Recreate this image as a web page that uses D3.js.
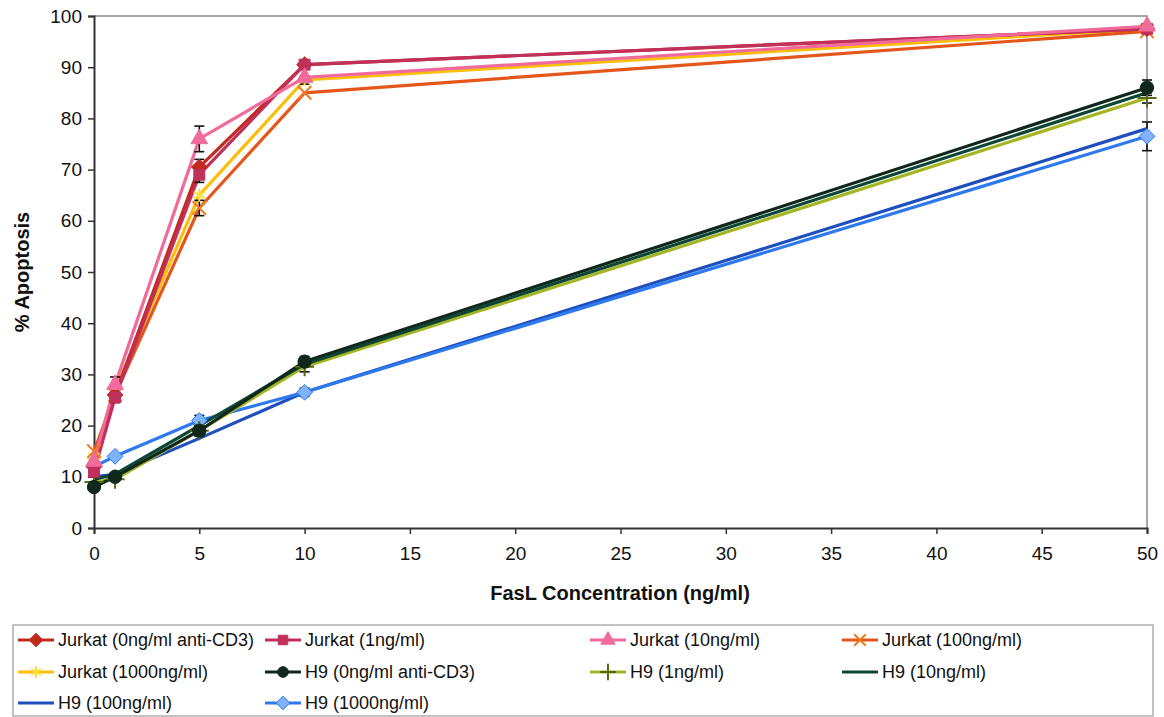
<!DOCTYPE html>
<html>
<head>
<meta charset="utf-8">
<script src="https://cdn.jsdelivr.net/npm/d3@7"></script>
<style>
  body { margin: 0; background: #fff; }
  svg { display: block; font-family: "Liberation Sans", Arial, sans-serif; }
</style>
</head>
<body>
<svg id="chart" width="1164" height="717"></svg>
<script>
const concentrations = [0, 1, 5, 10, 50];
const xTicks = [0, 5, 10, 15, 20, 25, 30, 35, 40, 45, 50];
const yTicks = [0, 10, 20, 30, 40, 50, 60, 70, 80, 90, 100];

const seriesNames = [
  "Jurkat (0ng/ml anti-CD3)", "Jurkat (1ng/ml)", "Jurkat (10ng/ml)", "Jurkat (100ng/ml)",
  "Jurkat (1000ng/ml)", "H9 (0ng/ml anti-CD3)", "H9 (1ng/ml)", "H9 (10ng/ml)",
  "H9 (100ng/ml)", "H9 (1000ng/ml)"
];
const jurkat0    = [12, 26, 70.5, 90.5, 97.5];
const jurkat1    = [11, 25.5, 69, 90.5, 97.5];
const jurkat10   = [13, 28, 76, 88, 98];
const jurkat100  = [15, 26, 62.5, 85, 97];
const jurkat1000 = [14, 27, 65, 87.5, 97.5];
const h9_0    = [8, 10, 19, 32.5, 86];
const h9_1    = [9, 9.5, 19, 31.5, 84];
const h9_10   = [9.5, 10.5, 20, 32, 85];
const h9_100  = [10, 10.5, 17.5, 26.5, 78];
const h9_1000 = [12, 14, 21, 26.5, 76.5];

const err_jurkat0    = [0, 1, 1.5, 0, 0];
const err_jurkat1    = [0, 1, 1.5, 0, 0];
const err_jurkat10   = [0, 1.5, 2.5, 0, 0];
const err_jurkat100  = [0, 1, 1.5, 0, 0];
const err_jurkat1000 = [0, 0, 0, 0.8, 0];
const err_h9_0    = [0, 0, 1, 1, 1.5];
const err_h9_1    = [0, 0, 1, 1, 1];
const err_h9_10   = [0, 0, 0, 0, 0];
const err_h9_100  = [0, 0, 0, 0, 0];
const err_h9_1000 = [0, 0, 1, 0.8, 2.8];

const seriesColors = ["#C32A1E", "#C0305A", "#F06B9B", "#E4561A", "#FDBE0A",
                      "#10281C", "#A4B524", "#0E4636", "#1F4FBF", "#2F79EE"];
const seriesFills  = ["#C32A1E", "#C0305A", "#F06B9B", "#F07A20", "#FFE040",
                      "#10281C", "#A4B524", "#0E4636", "#1F4FBF", "#7FB2FF"];
const seriesSymbols = ["diamond", "square", "triangle", "x", "asterisk",
                       "circle", "plus", null, null, "diamond"];

const allValues = [jurkat0, jurkat1, jurkat10, jurkat100, jurkat1000, h9_0, h9_1, h9_10, h9_100, h9_1000];
const allErrs = [err_jurkat0, err_jurkat1, err_jurkat10, err_jurkat100, err_jurkat1000,
                 err_h9_0, err_h9_1, err_h9_10, err_h9_100, err_h9_1000];

const series = seriesNames.map((name, i) => ({
  name, color: seriesColors[i], fill: seriesFills[i], symbol: seriesSymbols[i],
  points: concentrations.map((c, j) => ({ x: c, y: allValues[i][j], e: allErrs[i][j] }))
}));

const svg = d3.select("#chart");
const margin = { left: 94, right: 1147, top: 16, bottom: 528 };
const x = d3.scaleLinear().domain([0, 50]).range([margin.left, margin.right]);
const y = d3.scaleLinear().domain([0, 100]).range([margin.bottom, margin.top]);

// plot border (top/right light gray)
svg.append("path")
  .attr("d", `M${margin.left},${margin.top}H${margin.right}V${margin.bottom}`)
  .attr("fill", "none").attr("stroke", "#8a8a8a").attr("stroke-width", 1.5);

// axes
const yAxis = svg.append("g").attr("transform", `translate(${margin.left},0)`)
  .call(d3.axisLeft(y).tickValues(yTicks).tickSize(6).tickPadding(6).tickFormat(d3.format("d")));
const xAxis = svg.append("g").attr("transform", `translate(0,${margin.bottom})`)
  .call(d3.axisBottom(x).tickValues(xTicks).tickSize(6).tickPadding(13).tickFormat(d3.format("d")));
[yAxis, xAxis].forEach(g => {
  g.select(".domain").attr("stroke", "#333").attr("stroke-width", 2);
  g.selectAll(".tick line").attr("stroke", "#333").attr("stroke-width", 1.5);
  g.selectAll(".tick text").attr("font-size", 19).attr("fill", "#111")
    .attr("font-family", "'Liberation Sans', Arial, sans-serif");
});

// axis titles
svg.append("text").attr("x", 620).attr("y", 600)
  .attr("text-anchor", "middle").attr("font-size", 20).attr("font-weight", "bold")
  .attr("fill", "#111").text("FasL Concentration (ng/ml)");
svg.append("text").attr("transform", `translate(29,${(margin.top + margin.bottom) / 2}) rotate(-90)`)
  .attr("text-anchor", "middle").attr("font-size", 20).attr("font-weight", "bold")
  .attr("fill", "#111").text("% Apoptosis");

const wideDiamond = {
  draw(ctx, size) {
    const r = Math.sqrt(size) * 0.72;
    ctx.moveTo(0, -r); ctx.lineTo(r, 0); ctx.lineTo(0, r); ctx.lineTo(-r, 0); ctx.closePath();
  }
};
const symbolTypes = {
  diamond: wideDiamond, square: d3.symbolSquare, triangle: d3.symbolTriangle,
  x: d3.symbolX, asterisk: d3.symbolAsterisk, circle: d3.symbolCircle, plus: d3.symbolPlus
};
const strokeSymbols = new Set(["x", "asterisk", "plus"]);
function drawSymbol(g, s, cx, cy, size) {
  if (!s.symbol) return;
  const path = d3.symbol().type(symbolTypes[s.symbol]).size(size)();
  const el = g.append("path").attr("d", path).attr("transform", `translate(${cx},${cy})`);
  if (strokeSymbols.has(s.symbol)) {
    el.attr("fill", "none").attr("stroke", s.symbol === "plus" ? "#5a6a10" : s.fill).attr("stroke-width", 2);
  } else {
    el.attr("fill", s.fill).attr("stroke", s.color).attr("stroke-width", 1);
  }
}

const line = d3.line().x(d => x(d.x)).y(d => y(d.y));
const drawOrder = [8, 9, 6, 7, 5, 4, 3, 0, 1, 2];
const plot = svg.append("g");
drawOrder.forEach(i => {
  const s = series[i];
  plot.append("path").datum(s.points).attr("d", line)
    .attr("fill", "none").attr("stroke", s.color).attr("stroke-width", 3.2)
    .attr("stroke-linejoin", "round");
});
drawOrder.forEach(i => {
  const s = series[i];
  s.points.forEach(p => {
    if (p.e > 0) {
      const eg = plot.append("g").attr("stroke", "#111").attr("stroke-width", 1.6);
      eg.append("line").attr("x1", x(p.x)).attr("x2", x(p.x)).attr("y1", y(p.y - p.e)).attr("y2", y(p.y + p.e));
      [p.y - p.e, p.y + p.e].forEach(v => eg.append("line")
        .attr("x1", x(p.x) - 5).attr("x2", x(p.x) + 5).attr("y1", y(v)).attr("y2", y(v)));
    }
  });
});
drawOrder.forEach(i => {
  const s = series[i];
  s.points.forEach(p => drawSymbol(plot, s, x(p.x), y(p.y), s.symbol === "circle" ? 140 : 120));
});

// legend
const legend = svg.append("g");
legend.append("rect").attr("x", 13).attr("y", 625).attr("width", 1140).attr("height", 91)
  .attr("fill", "#fff").attr("stroke", "#999").attr("stroke-width", 1.2);
const colX = [18, 265, 590, 842];
const rowY = [640, 672, 703];
series.forEach((s, i) => {
  const cx = colX[i % 4], cy = rowY[Math.floor(i / 4)];
  const g = legend.append("g");
  g.append("line").attr("x1", cx).attr("x2", cx + 36).attr("y1", cy).attr("y2", cy)
    .attr("stroke", s.color).attr("stroke-width", 3.2);
  drawSymbol(g, s, cx + 18, cy, 90);
  g.append("text").attr("x", cx + 40).attr("y", cy).attr("dy", "0.35em")
    .attr("font-size", 18).attr("fill", "#111").text(s.name);
});
</script>
</body>
</html>
